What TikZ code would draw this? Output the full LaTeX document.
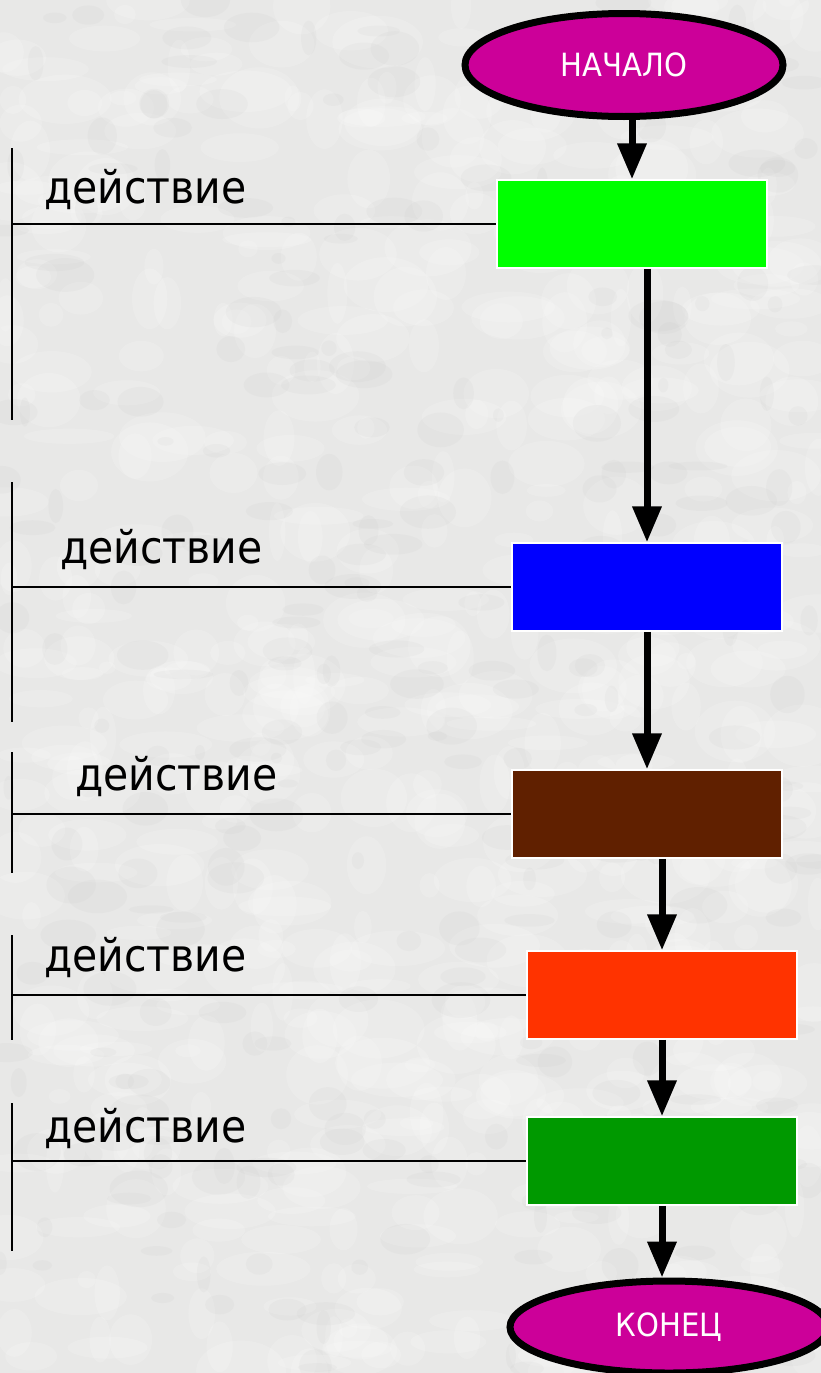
\documentclass[tikz,border=0pt]{standalone}
\usepackage{fontspec}
\setmainfont{DejaVu Sans}
\newfontfamily\labelfont[FakeStretch=0.91]{DejaVu Sans}
\usetikzlibrary{arrows.meta,shapes.geometric}
\definecolor{paper}{HTML}{E8E8E7}
\definecolor{termfill}{HTML}{CC0099}
\definecolor{cgreen}{HTML}{00FF00}
\definecolor{cblue}{HTML}{0000FF}
\definecolor{cbrown}{HTML}{602000}
\definecolor{cred}{HTML}{FF3300}
\definecolor{cdkgreen}{HTML}{009900}
\begin{document}
\begin{tikzpicture}[x=1pt,y=-1pt,
  terminal/.style={ellipse, draw=black, line width=7pt, fill=termfill,
    minimum width=318pt, minimum height=103pt, inner sep=0pt,
    text=white, font=\labelfont\fontsize{32}{36}\selectfont},
  actbox/.style={rectangle, draw=white, line width=1.5pt,
    minimum width=270pt, minimum height=88pt, inner sep=0pt},
  flow/.style={line width=7pt, -{Triangle[width=28pt,length=36pt]}},
  guide/.style={line width=2pt, black},
  actlabel/.style={anchor=base west, inner sep=0pt,
    font=\labelfont\fontsize{45}{50}\selectfont}]
  \useasboundingbox (0,0) rectangle (821,1373);
  \clip (0,0) rectangle (821,1373);

  % mottled paper background
  \fill[paper] (0,0) rectangle (821,1373);
  \pgfmathsetseed{4711}
  \foreach \i in {1,...,650}{
    \pgfmathsetmacro\px{rnd*821}
    \pgfmathsetmacro\py{rnd*1373}
    \pgfmathsetmacro\rx{8+rnd*40}
    \pgfmathsetmacro\ry{6+rnd*25}
    \fill[white,opacity=0.16] (\px,\py) ellipse ({\rx pt} and {\ry pt});
  }
  \foreach \i in {1,...,300}{
    \pgfmathsetmacro\px{rnd*821}
    \pgfmathsetmacro\py{rnd*1373}
    \pgfmathsetmacro\rx{5+rnd*25}
    \pgfmathsetmacro\ry{4+rnd*15}
    \fill[black!25,opacity=0.1] (\px,\py) ellipse ({\rx pt} and {\ry pt});
  }

  % flowchart blocks
  \node[terminal] (start) at (624,65) {\raisebox{-4pt}{НАЧАЛО}};
  \node[actbox, fill=cgreen]   (b1) at (632,224) {};
  \node[actbox, fill=cblue]    (b2) at (647,587) {};
  \node[actbox, fill=cbrown]   (b3) at (647,814) {};
  \node[actbox, fill=cred]     (b4) at (662,995) {};
  \node[actbox, fill=cdkgreen] (b5) at (662,1161) {};
  \node[terminal, minimum height=92pt] (end) at (669,1327) {\raisebox{1pt}{КОНЕЦ}};

  % flow arrows
  \draw[flow] (b1.north |- start.south) -- (b1.north);
  \draw[flow] (b2.north |- b1.south) -- (b2.north);
  \draw[flow] (b2.south) -- (b3.north);
  \draw[flow] (b4.north |- b3.south) -- (b4.north);
  \draw[flow] (b4.south) -- (b5.north);
  \draw[flow] (b5.south) -- (b5.south |- end.north);

  % side brackets
  \coordinate (v1a) at (12,148);  \coordinate (v1b) at (12,420);
  \coordinate (v2a) at (12,482);  \coordinate (v2b) at (12,722);
  \coordinate (v3a) at (12,752);  \coordinate (v3b) at (12,873);
  \coordinate (v4a) at (12,935);  \coordinate (v4b) at (12,1040);
  \coordinate (v5a) at (12,1103); \coordinate (v5b) at (12,1251);
  \foreach \k in {1,...,5}{
    \draw[guide] (v\k a) -- (v\k b);
    \draw[guide] (b\k.west -| v\k a) -- (b\k.west);
  }

  % labels
  \node[actlabel] (l1) at (44,203)  {действие};
  \node[actlabel] (l2) at (60,563)  {действие};
  \node[actlabel] (l3) at (75,790)  {действие};
  \node[actlabel] (l4) at (44,971)  {действие};
  \node[actlabel] (l5) at (44,1142) {действие};
\end{tikzpicture}
\end{document}
